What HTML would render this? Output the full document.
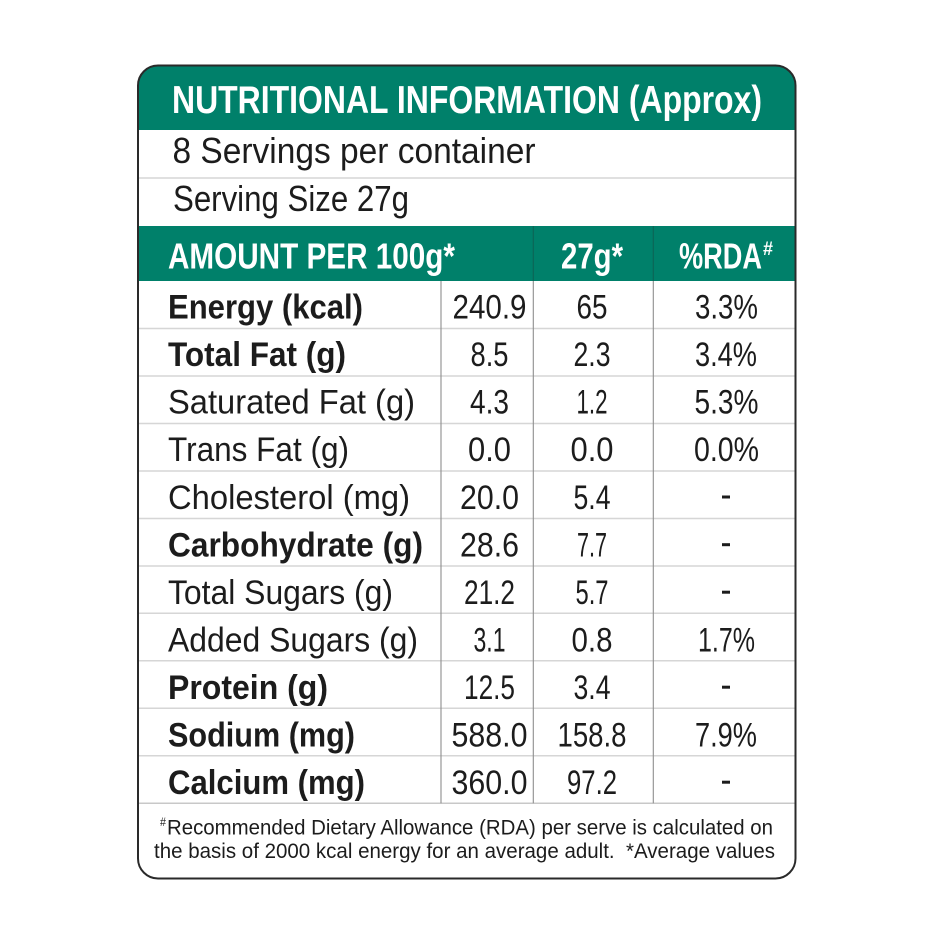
<!DOCTYPE html>
<html>
<head>
<meta charset="utf-8">
<style>
  html, body { margin: 0; padding: 0; background: #ffffff; }
  body { width: 940px; height: 940px; overflow: hidden; }
  svg { display: block; }
  text { font-family: "Liberation Sans", "DejaVu Sans", sans-serif; fill: #1c1c1c; }
  .b { font-weight: bold; }
  .w { fill: #ffffff; font-weight: bold; }
</style>
</head>
<body>
<svg width="940" height="940" viewBox="0 0 940 940" xmlns="http://www.w3.org/2000/svg">
  <defs>
    <clipPath id="box">
      <rect x="138" y="65.5" width="657.5" height="813" rx="20" ry="20"/>
    </clipPath>
  </defs>

  <!-- box background -->
  <rect x="138" y="65.5" width="657.5" height="813" rx="20" ry="20" fill="#ffffff"/>

  <g clip-path="url(#box)">
    <!-- green bands -->
    <rect x="130" y="60" width="680" height="70" fill="#00806a"/>
    <rect x="130" y="226" width="680" height="55" fill="#00806a"/>
    <!-- header dividers in green -->
    <line x1="533.3" y1="226" x2="533.3" y2="281" stroke="#0b6656" stroke-width="1.2"/>
    <line x1="653.3" y1="226" x2="653.3" y2="281" stroke="#0b6656" stroke-width="1.2"/>

    <!-- light horizontal lines -->
    <g stroke="#d6d6d6" stroke-width="1.5">
      <line x1="138" y1="178" x2="796" y2="178"/>
      <line x1="138" y1="328.5" x2="796" y2="328.5"/>
      <line x1="138" y1="376" x2="796" y2="376"/>
      <line x1="138" y1="423.5" x2="796" y2="423.5"/>
      <line x1="138" y1="471" x2="796" y2="471"/>
      <line x1="138" y1="518.5" x2="796" y2="518.5"/>
      <line x1="138" y1="566" x2="796" y2="566"/>
      <line x1="138" y1="613.3" x2="796" y2="613.3"/>
      <line x1="138" y1="660.8" x2="796" y2="660.8"/>
      <line x1="138" y1="708.3" x2="796" y2="708.3"/>
      <line x1="138" y1="755.8" x2="796" y2="755.8"/>
    </g>
    <line x1="138" y1="803.3" x2="796" y2="803.3" stroke="#c8c8c8" stroke-width="1.5"/>

    <!-- vertical dividers -->
    <g stroke="#8e8e8e" stroke-width="1.1">
      <line x1="441" y1="281" x2="441" y2="803.3"/>
      <line x1="533.3" y1="281" x2="533.3" y2="803.3"/>
      <line x1="653.3" y1="281" x2="653.3" y2="803.3"/>
    </g>
  </g>

  <!-- outer border -->
  <rect x="138" y="65.5" width="657.5" height="813" rx="20" ry="20" fill="none" stroke="#2a2a2a" stroke-width="2"/>

  <!-- title -->
  <text class="w" x="172" y="113" font-size="39" textLength="590" lengthAdjust="spacingAndGlyphs">NUTRITIONAL INFORMATION (Approx)</text>

  <!-- serving rows -->
  <text x="172.5" y="163" font-size="36" textLength="363" lengthAdjust="spacingAndGlyphs">8 Servings per container</text>
  <text x="173" y="211" font-size="36" textLength="236" lengthAdjust="spacingAndGlyphs">Serving Size 27g</text>

  <!-- green column header -->
  <text class="w" x="168" y="268.5" font-size="36" textLength="287" lengthAdjust="spacingAndGlyphs">AMOUNT PER 100g*</text>
  <text class="w" x="561" y="268.5" font-size="36" textLength="62" lengthAdjust="spacingAndGlyphs">27g*</text>
  <text class="w" x="679" y="268.5" font-size="36" textLength="83" lengthAdjust="spacingAndGlyphs">%RDA</text>
  <text class="w" x="763" y="255" font-size="19" textLength="10" lengthAdjust="spacingAndGlyphs">#</text>

  <!-- labels -->
  <text class="b" x="168" y="318.5" font-size="34.5" textLength="195" lengthAdjust="spacingAndGlyphs">Energy (kcal)</text>
  <text class="b" x="168" y="366" font-size="34.5" textLength="178" lengthAdjust="spacingAndGlyphs">Total Fat (g)</text>
  <text x="168" y="413.5" font-size="34.5" textLength="247" lengthAdjust="spacingAndGlyphs">Saturated Fat (g)</text>
  <text x="168" y="461" font-size="34.5" textLength="181" lengthAdjust="spacingAndGlyphs">Trans Fat (g)</text>
  <text x="168" y="508.8" font-size="34.5" textLength="242" lengthAdjust="spacingAndGlyphs">Cholesterol (mg)</text>
  <text class="b" x="168" y="556.5" font-size="34.5" textLength="255" lengthAdjust="spacingAndGlyphs">Carbohydrate (g)</text>
  <text x="168" y="604" font-size="34.5" textLength="225" lengthAdjust="spacingAndGlyphs">Total Sugars (g)</text>
  <text x="168" y="651.5" font-size="34.5" textLength="250" lengthAdjust="spacingAndGlyphs">Added Sugars (g)</text>
  <text class="b" x="168" y="699" font-size="34.5" textLength="160" lengthAdjust="spacingAndGlyphs">Protein (g)</text>
  <text class="b" x="168" y="746.5" font-size="34.5" textLength="187" lengthAdjust="spacingAndGlyphs">Sodium (mg)</text>
  <text class="b" x="168" y="794" font-size="34.5" textLength="197" lengthAdjust="spacingAndGlyphs">Calcium (mg)</text>

  <!-- column 2 (per 100g) -->
  <g text-anchor="middle" font-size="34.5">
    <text x="489.5" y="318.5" textLength="74" lengthAdjust="spacingAndGlyphs">240.9</text>
    <text x="489.5" y="366" textLength="38" lengthAdjust="spacingAndGlyphs">8.5</text>
    <text x="489.5" y="413.5" textLength="39" lengthAdjust="spacingAndGlyphs">4.3</text>
    <text x="489.5" y="461" textLength="43" lengthAdjust="spacingAndGlyphs">0.0</text>
    <text x="489.5" y="508.8" textLength="59" lengthAdjust="spacingAndGlyphs">20.0</text>
    <text x="489.5" y="556.5" textLength="59" lengthAdjust="spacingAndGlyphs">28.6</text>
    <text x="489.5" y="604" textLength="51" lengthAdjust="spacingAndGlyphs">21.2</text>
    <text x="489.5" y="651.5" textLength="32" lengthAdjust="spacingAndGlyphs">3.1</text>
    <text x="489.5" y="699" textLength="51" lengthAdjust="spacingAndGlyphs">12.5</text>
    <text x="489.5" y="746.5" textLength="76" lengthAdjust="spacingAndGlyphs">588.0</text>
    <text x="489.5" y="794" textLength="76" lengthAdjust="spacingAndGlyphs">360.0</text>
  </g>

  <!-- column 3 (27g) -->
  <g text-anchor="middle" font-size="34.5">
    <text x="592" y="318.5" textLength="31" lengthAdjust="spacingAndGlyphs">65</text>
    <text x="592" y="366" textLength="37" lengthAdjust="spacingAndGlyphs">2.3</text>
    <text x="592" y="413.5" textLength="31" lengthAdjust="spacingAndGlyphs">1.2</text>
    <text x="592" y="461" textLength="43" lengthAdjust="spacingAndGlyphs">0.0</text>
    <text x="592" y="508.8" textLength="37" lengthAdjust="spacingAndGlyphs">5.4</text>
    <text x="592" y="556.5" textLength="30" lengthAdjust="spacingAndGlyphs">7.7</text>
    <text x="592" y="604" textLength="33" lengthAdjust="spacingAndGlyphs">5.7</text>
    <text x="592" y="651.5" textLength="41" lengthAdjust="spacingAndGlyphs">0.8</text>
    <text x="592" y="699" textLength="37" lengthAdjust="spacingAndGlyphs">3.4</text>
    <text x="592" y="746.5" textLength="69" lengthAdjust="spacingAndGlyphs">158.8</text>
    <text x="592" y="794" textLength="50" lengthAdjust="spacingAndGlyphs">97.2</text>
  </g>

  <!-- column 4 (%RDA) -->
  <g text-anchor="middle" font-size="34.5">
    <text x="726.5" y="318.5" textLength="63" lengthAdjust="spacingAndGlyphs">3.3%</text>
    <text x="726" y="366" textLength="62" lengthAdjust="spacingAndGlyphs">3.4%</text>
    <text x="726.5" y="413.5" textLength="64" lengthAdjust="spacingAndGlyphs">5.3%</text>
    <text x="726.5" y="461" textLength="65" lengthAdjust="spacingAndGlyphs">0.0%</text>
    <text x="726.5" y="651.5" textLength="57" lengthAdjust="spacingAndGlyphs">1.7%</text>
    <text x="726" y="746.5" textLength="62" lengthAdjust="spacingAndGlyphs">7.9%</text>
  </g>
  <!-- dashes -->
  <g fill="#1c1c1c">
    <rect x="722" y="495.5" width="8" height="3"/>
    <rect x="722" y="543.2" width="8" height="3"/>
    <rect x="722" y="590.7" width="8" height="3"/>
    <rect x="722" y="685.7" width="8" height="3"/>
    <rect x="722" y="780.7" width="8" height="3"/>
  </g>

  <!-- footer -->
  <text x="160" y="826" font-size="12" textLength="6" lengthAdjust="spacingAndGlyphs">#</text>
  <text x="167" y="834.5" font-size="21" textLength="606" lengthAdjust="spacingAndGlyphs">Recommended Dietary Allowance (RDA) per serve is calculated on</text>
  <text x="154" y="858" font-size="21" textLength="621" lengthAdjust="spacingAndGlyphs" xml:space="preserve">the basis of 2000 kcal energy for an average adult.  *Average values</text>
</svg>
</body>
</html>
